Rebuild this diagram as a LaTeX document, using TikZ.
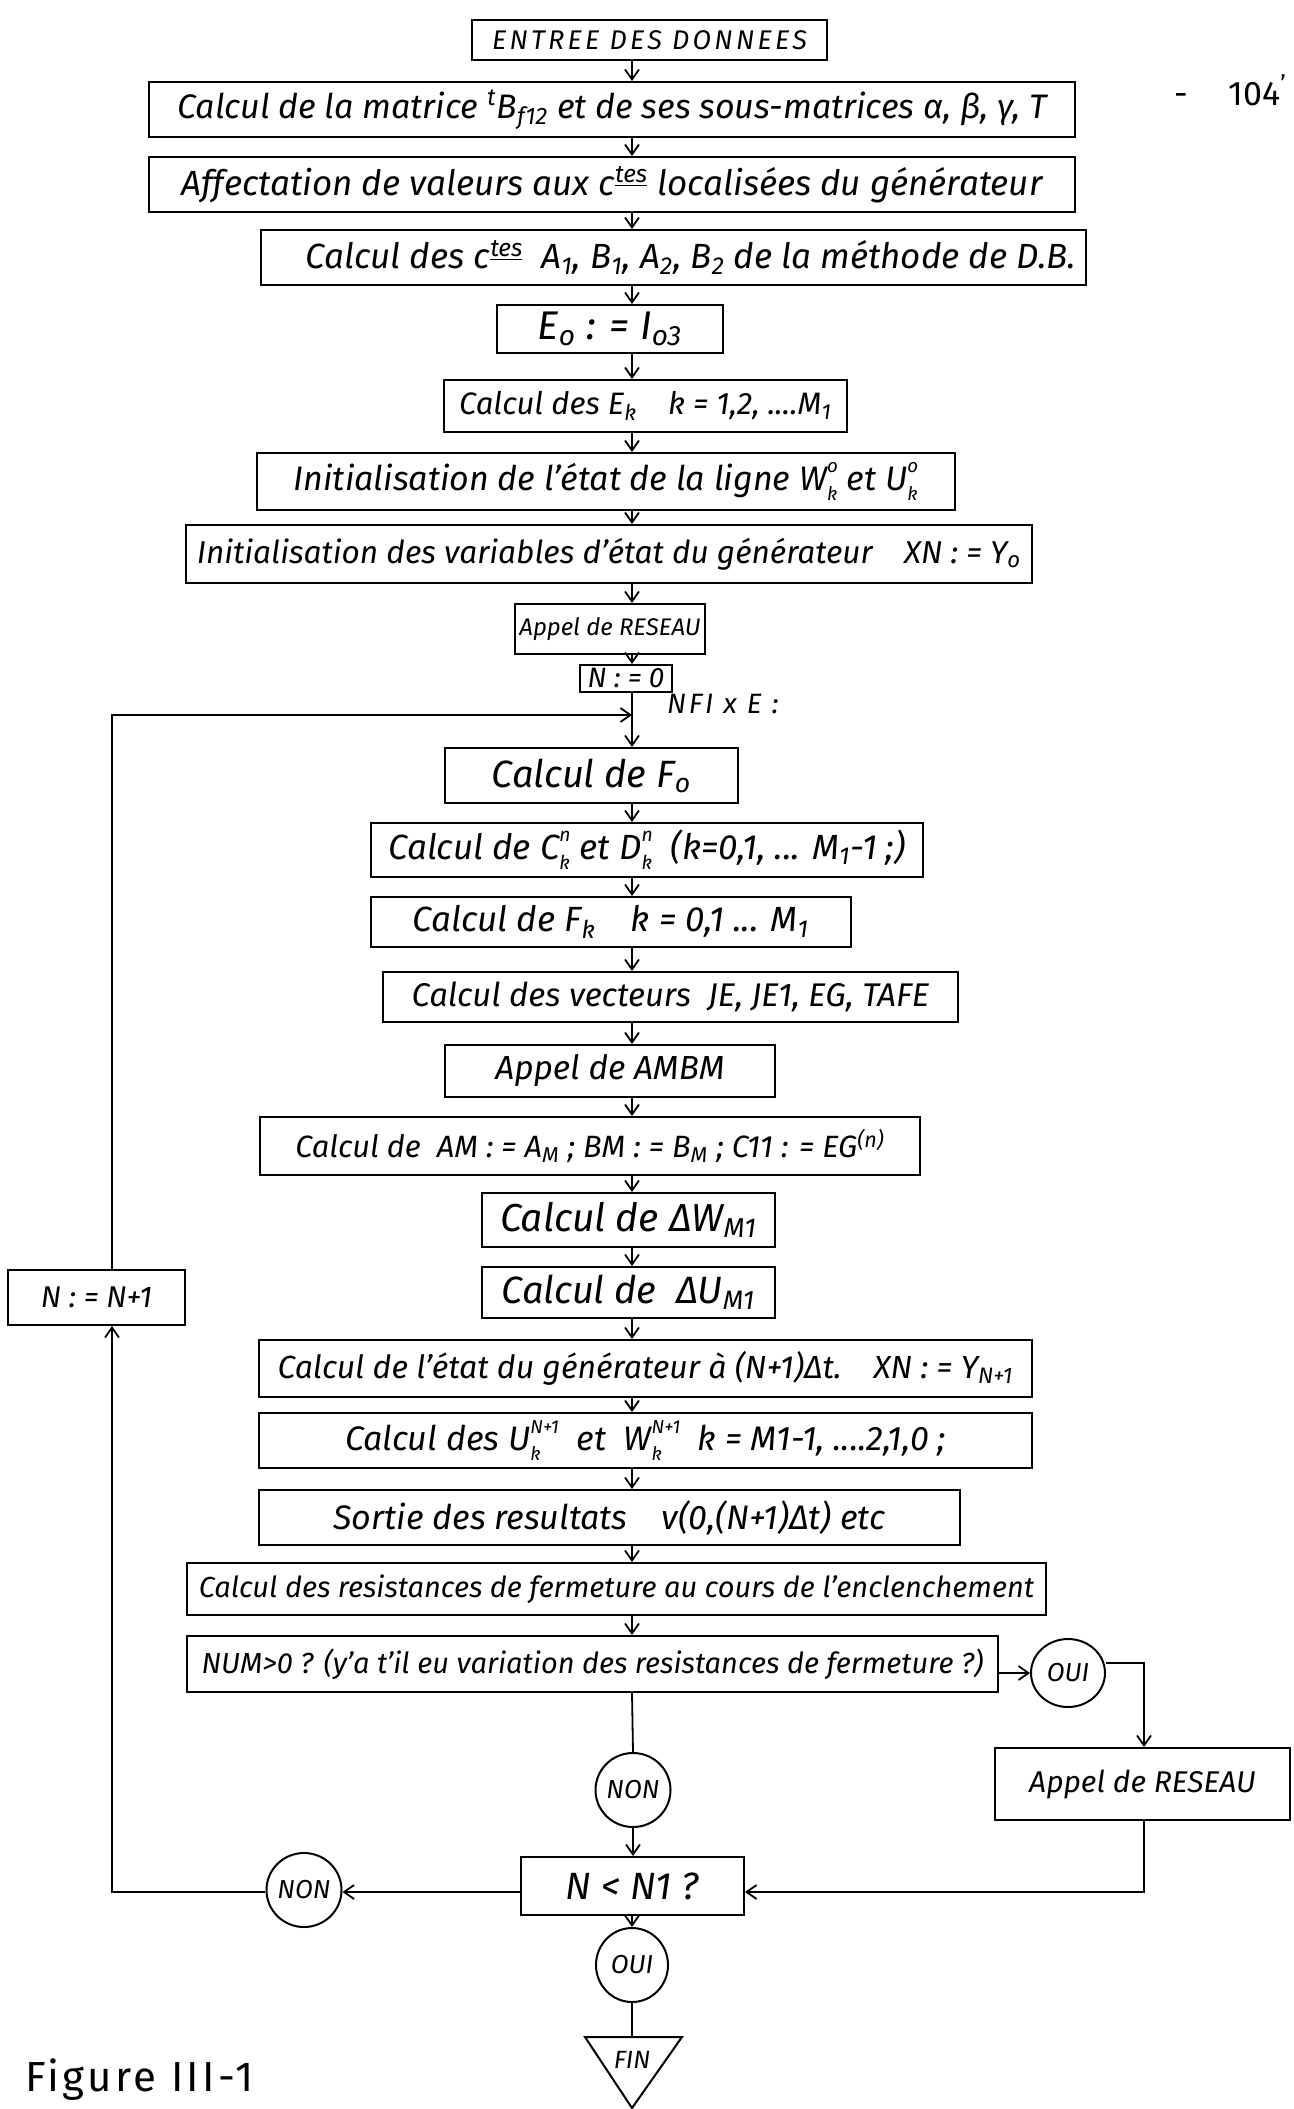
\documentclass[tikz,border=0pt]{standalone}
\usepackage{fontspec}
\setmainfont{Fira Sans}
\usetikzlibrary{arrows.meta,shapes.geometric}
\newcommand{\SupSub}[2]{\sbox0{\raisebox{1.0ex}{\fontsize{0.55em}{0.55em}\selectfont #1}}\sbox2{\raisebox{-0.55ex}{\fontsize{0.55em}{0.55em}\selectfont #2}}\ifdim\wd0>\wd2 \rlap{\usebox2}\usebox0\else\rlap{\usebox0}\usebox2\fi}
\newcommand{\ctes}{c\textsuperscript{\underline{tes}}}
\newcommand{\mkbox}[7][]{\node[box,minimum width={(#4-#2)*0.5pt},minimum height={(#5-#3)*0.5pt},#1] (#6) at ({(#2+#4)/2},{(#3+#5)/2}) {#7};}
\newcommand{\mkell}[6]{\node[ell,minimum width={2*#4*0.5pt},minimum height={2*#5*0.5pt}] (#1) at (#2,#3) {#6};}
\begin{document}
\begin{tikzpicture}[x=0.5pt,y=-0.5pt,
  fs/.style={font=\itshape\fontsize{#1}{#1}\selectfont},
  box/.style={draw,line width=1pt,inner sep=0pt,fs=14},
  ell/.style={draw,ellipse,line width=1pt,inner sep=0pt,fs=13},
  conn/.style={line width=0.9pt},
  arr/.style={conn,-{Straight Barb[length=5pt,width=7pt,line width=0.9pt]}}]
\useasboundingbox (0,0) rectangle (1294,2109);
\coordinate (ax) at (632,0);
% main column
\mkbox[font=\itshape\fontsize{13.5}{14}\selectfont\addfontfeature{LetterSpace=12}]{472}{20}{827}{60}{entree}{ENTREE DES DONNEES}
\mkbox[fs=17]{149}{82}{1075}{137}{matrice}{Calcul de la matrice \textsuperscript{t}B\textsubscript{f12} et de ses sous-matrices α, β, γ, T}
\mkbox[fs=17.5]{149}{157}{1075}{212}{affect}{Affectation de valeurs aux \ctes{} localisées du générateur}
\mkbox[fs=17.5]{261}{230}{1086}{285}{ctes}{\hspace*{1em}Calcul des \ctes{}\ \ A\textsubscript{1}, B\textsubscript{1}, A\textsubscript{2}, B\textsubscript{2} de la méthode de D.B.}
\mkbox[fs=20]{497}{305}{723}{353}{ezero}{E\textsubscript{o} : = I\textsubscript{o3}}
\mkbox[fs=15.5]{444}{380}{847}{432}{ek}{Calcul des E\textsubscript{k}\quad k = 1,2, ....M\textsubscript{1}}
\mkbox[fs=17]{257}{453}{955}{510}{initetat}{Initialisation de l'état de la ligne W\SupSub{o}{k} et U\SupSub{o}{k}}
\mkbox[fs=15.8]{186}{525}{1032}{583}{initvar}{Initialisation des variables d'état du générateur\quad XN : = Y\textsubscript{o}}
\mkbox[fs=12]{515}{604}{705}{654}{reseau}{Appel de RESEAU}
\mkbox{580}{665}{672}{692}{nzero}{N : = 0}
\mkbox[fs=19]{445}{748}{738}{803}{fzero}{Calcul de F\textsubscript{o}}
\mkbox[fs=17.5]{371}{823}{923}{877}{ck}{Calcul de C\SupSub{n}{k} et D\SupSub{n}{k}\ \ (k=0,1, ... M\textsubscript{1}-1 ;)}
\mkbox[fs=17.5]{371}{897}{851}{947}{fk}{Calcul de F\textsubscript{k}\quad k = 0,1 ... M\textsubscript{1}}
\mkbox[fs=16.4]{383}{972}{958}{1022}{vect}{Calcul des vecteurs\ \ JE, JE1, EG, TAFE}
\mkbox[fs=16.7]{445}{1045}{775}{1097}{ambm}{Appel de AMBM}
\mkbox[fs=15.4]{260}{1117}{920}{1175}{am}{Calcul de\ \ AM : = A\textsubscript{M} ; BM : = B\textsubscript{M} ; C11 : = EG\textsuperscript{(n)}}
\mkbox[fs=19.5]{482}{1193}{775}{1247}{dw}{Calcul de ΔW\textsubscript{M1}}
\mkbox[fs=19]{482}{1267}{775}{1318}{du}{Calcul de\ \ ΔU\textsubscript{M1}}
\mkbox[fs=16]{259}{1340}{1032}{1397}{etat}{Calcul de l'état du générateur à (N+1)Δt.\quad XN : = Y\textsubscript{N+1}}
\mkbox[fs=17]{259}{1413}{1032}{1468}{uplus}{Calcul des U\SupSub{N+1}{k}\ \ et\ \ W\SupSub{N+1}{k}\ \ k = M1-1, ....2,1,0 ;}
\mkbox[fs=17]{259}{1490}{960}{1545}{sortie}{Sortie des resultats\quad v(0,(N+1)Δt) etc}
\mkbox[fs=14.5]{187}{1563}{1046}{1615}{resist}{Calcul des resistances de fermeture au cours de l'enclenchement}
\mkbox[fs=14.5]{187}{1636}{998}{1692}{num}{NUM>0 ? (y'a t'il eu variation des resistances de fermeture ?)}
\mkell{oui1}{1068}{1673}{37}{34}{OUI}
\mkbox[fs=15]{995}{1748}{1290}{1820}{reseautwo}{Appel de RESEAU}
\mkell{nonone}{633}{1790}{36}{37}{NON}
\mkbox[fs=19]{521}{1857}{744}{1915}{nlt}{N < N1 ?}
\mkell{nontwo}{304}{1890}{35}{37}{NON}
\mkell{ouitwo}{632}{1965}{36}{37}{OUI}
\mkbox[fs=15]{8}{1270}{185}{1325}{nplus}{N : = N+1}
% FIN triangle
\draw[line width=1pt] (585,2037) -- (682,2037) -- (632,2108) -- cycle;
\coordinate (fintop) at (632,2037);
\node[fs=12.5] (fin) at (632,2060) {FIN};
% labels
\node[anchor=west,font=\itshape\fontsize{14}{16}\selectfont\addfontfeature{LetterSpace=10}] (nfi) at (660,704) {NFI x E :};
\node[anchor=west,font=\fontsize{21}{24}\selectfont\addfontfeature{LetterSpace=8}] (fig) at (18,2080) {Figure III-1};
\node[font=\fontsize{17}{20}\selectfont] (page) at (1230,90) {-\hspace{1.2em}104\raisebox{0.7ex}{\fontsize{12}{12}\selectfont '}};
% vertical flow
\foreach \a/\b in {entree/matrice,matrice/affect,affect/ctes,ctes/ezero,ezero/ek,ek/initetat,initetat/initvar,initvar/reseau,reseau/nzero,nzero/fzero,fzero/ck,ck/fk,fk/vect,vect/ambm,ambm/am,am/dw,dw/du,du/etat,etat/uplus,uplus/sortie,sortie/resist,resist/num}
  \draw[arr] (\a.south -| ax) -- (\b.north -| ax);
\draw[conn] (num.south -| ax) -- (nonone.north);
\draw[arr] (nonone.south) -- (nlt.north -| nonone);
\draw[arr] (nlt.south -| ouitwo) -- (ouitwo.north);
\draw[conn] (ouitwo.south) -- (fintop);
% right branch
\draw[arr] (num.east |- oui1.west) -- (oui1.west);
\coordinate (rc) at (1144,1663);
\draw[arr] (oui1.east |- rc) -- (rc) -- (reseautwo.north -| rc);
\coordinate (rb) at (1144,1892);
\draw[arr] (reseautwo.south -| rb) -- (rb) -- (nlt.east |- rb);
% left branch
\coordinate (lb) at (112,1892);
\draw[arr] (nlt.west |- lb) -- (nontwo.east |- lb);
\draw[arr] (nontwo.west |- lb) -- (lb) -- (nplus.south -| lb);
\coordinate (lt) at (112,715);
\coordinate (lj) at (632,715);
\draw[arr] (nplus.north -| lt) -- (lt) -- (lj);
\end{tikzpicture}
\end{document}
